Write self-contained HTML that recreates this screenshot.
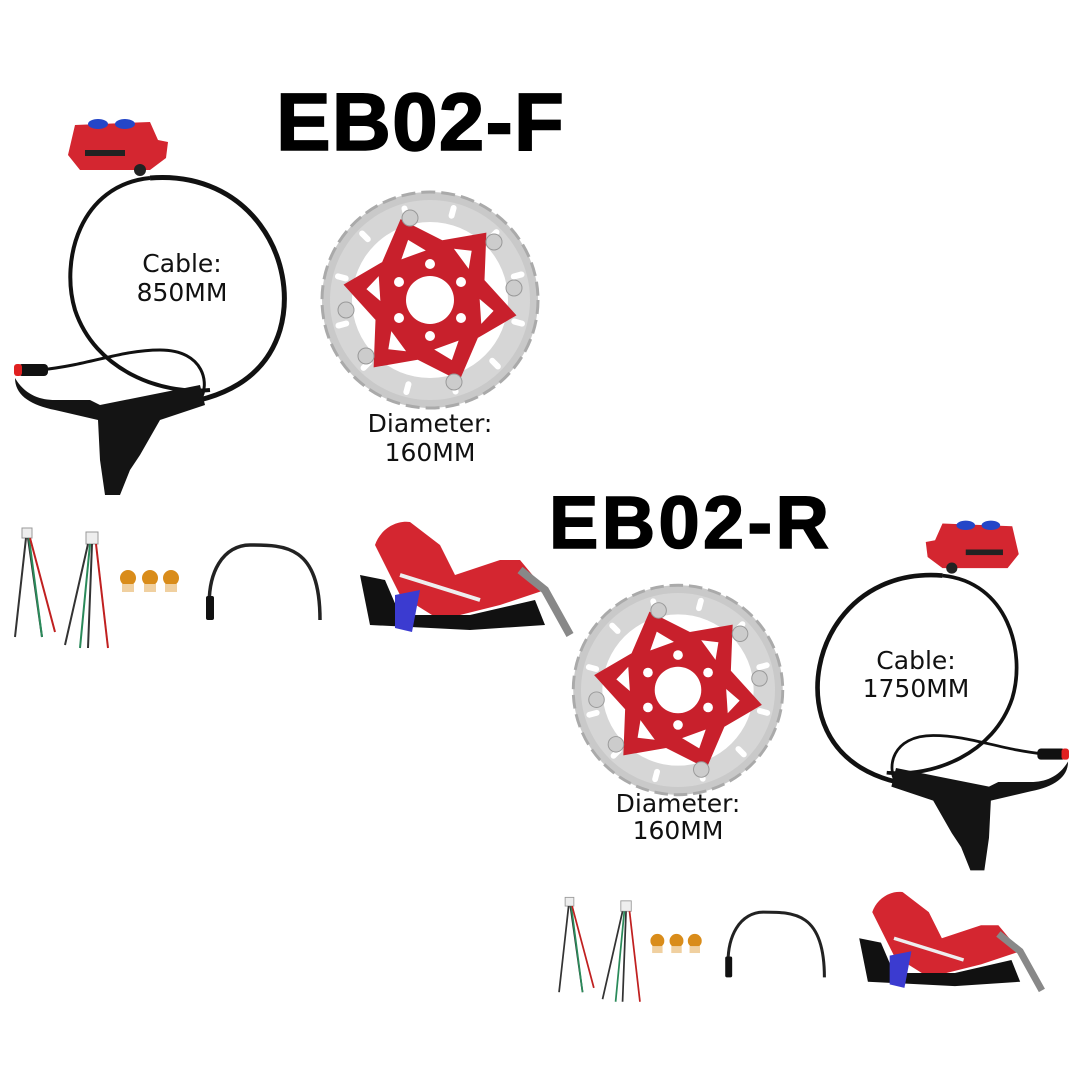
<!DOCTYPE html>
<html><head><meta charset="utf-8"><style>
html,body{margin:0;padding:0;background:#fff;}
svg{display:block}
.t{font-family:"Liberation Sans","DejaVu Sans",sans-serif;font-weight:bold;fill:#000;stroke:#000;stroke-width:1.5}
.l{font-family:"DejaVu Sans","Liberation Sans",sans-serif;fill:#111;font-size:25px}
</style></head><body>
<svg width="1080" height="1080" viewBox="0 0 1080 1080" xmlns="http://www.w3.org/2000/svg">
<defs>
<g id="rotor">
  <circle r="108" fill="#c9c9c9" stroke="#aaa" stroke-width="3" stroke-dasharray="14 6"/>
  <circle r="100" fill="#d6d6d6"/>
  <circle r="78" fill="#fff"/>
  <g fill="#fff">
    <rect x="84" y="-4" width="14" height="6" rx="3" transform="rotate(15)"/>
    <rect x="84" y="-4" width="14" height="6" rx="3" transform="rotate(45)"/>
    <rect x="84" y="-4" width="14" height="6" rx="3" transform="rotate(75)"/>
    <rect x="84" y="-4" width="14" height="6" rx="3" transform="rotate(105)"/>
    <rect x="84" y="-4" width="14" height="6" rx="3" transform="rotate(135)"/>
    <rect x="84" y="-4" width="14" height="6" rx="3" transform="rotate(165)"/>
    <rect x="84" y="-4" width="14" height="6" rx="3" transform="rotate(195)"/>
    <rect x="84" y="-4" width="14" height="6" rx="3" transform="rotate(225)"/>
    <rect x="84" y="-4" width="14" height="6" rx="3" transform="rotate(255)"/>
    <rect x="84" y="-4" width="14" height="6" rx="3" transform="rotate(285)"/>
    <rect x="84" y="-4" width="14" height="6" rx="3" transform="rotate(315)"/>
    <rect x="84" y="-4" width="14" height="6" rx="3" transform="rotate(345)"/>
  </g>
  <polygon fill="#c8202c" points="0,-86 32,-52 76,-44 58,0 76,44 32,52 0,86 -32,52 -76,44 -58,0 -76,-44 -32,-52" transform="rotate(-20)"/>
  <g fill="#fff" transform="rotate(-20)">
    <polygon points="0,-64 13,-48 -13,-48"/><polygon points="0,64 13,48 -13,48"/>
    <polygon points="56,-32 47,-16 40,-40"/><polygon points="-56,-32 -47,-16 -40,-40"/>
    <polygon points="56,32 47,16 40,40"/><polygon points="-56,32 -47,16 -40,40"/>
  </g>
  <circle r="24" fill="#fff"/>
  <g fill="#fff">
    <circle cx="0" cy="-36" r="5"/><circle cx="31" cy="-18" r="5"/><circle cx="31" cy="18" r="5"/>
    <circle cx="0" cy="36" r="5"/><circle cx="-31" cy="18" r="5"/><circle cx="-31" cy="-18" r="5"/>
  </g>
  <g fill="#ccc" stroke="#999">
    <circle cx="-20" cy="-82" r="8"/><circle cx="64" cy="-58" r="8"/><circle cx="84" cy="-12" r="8"/>
    <circle cx="24" cy="82" r="8"/><circle cx="-64" cy="56" r="8"/><circle cx="-84" cy="10" r="8"/>
  </g>
</g>
<g id="assy">
  <path d="M150,178 C250,170 300,260 280,330 C265,380 220,400 170,405" fill="none" stroke="#111" stroke-width="5"/>
  <path d="M150,178 C80,185 60,260 75,310 C95,370 160,395 210,390" fill="none" stroke="#111" stroke-width="4"/>
  <path d="M40,370 C90,365 120,350 160,350 C205,350 210,385 200,400" fill="none" stroke="#111" stroke-width="3"/>
  <path d="M75,125 L150,122 L158,140 L168,142 L166,158 L150,170 L80,170 L68,155 Z" fill="#d42630"/>
  <rect x="85" y="150" width="40" height="6" fill="#222"/>
  <ellipse cx="98" cy="124" rx="10" ry="5" fill="#2446c8"/><ellipse cx="125" cy="124" rx="10" ry="5" fill="#2446c8"/>
  <circle cx="140" cy="170" r="6" fill="#222"/>
  <rect x="18" y="364" width="30" height="12" rx="4" fill="#111"/><rect x="14" y="364" width="8" height="12" rx="3" fill="#e02020"/>
  <path d="M15,378 C25,395 40,400 55,400 L90,400 L100,405 L150,395 L200,385 L205,405 L160,420 L140,455 L130,470 L120,495 L105,495 L100,460 L98,420 L55,410 C30,405 15,395 15,378 Z" fill="#141414"/>
</g>
<g id="acc">
  <rect x="22" y="528" width="10" height="10" fill="#eee" stroke="#999"/>
  <path d="M26,538 L15,637 M28,538 L42,637" stroke="#333" stroke-width="2" fill="none"/>
  <path d="M29,538 L42,637" stroke="#2a8a5a" stroke-width="2" fill="none"/>
  <path d="M30,538 L55,632" stroke="#c02020" stroke-width="2" fill="none"/>
  <rect x="86" y="532" width="12" height="12" fill="#eee" stroke="#999"/>
  <path d="M88,544 L65,645 M92,544 L88,648" stroke="#333" stroke-width="2" fill="none"/>
  <path d="M90,544 L80,648" stroke="#2a8a5a" stroke-width="2" fill="none"/>
  <path d="M96,544 L108,648" stroke="#c02020" stroke-width="2" fill="none"/>
  <g fill="#d98c1a"><circle cx="128" cy="578" r="8"/><circle cx="150" cy="578" r="8"/><circle cx="171" cy="578" r="8"/></g>
  <g fill="#f0d0a0"><rect x="122" y="584" width="12" height="8"/><rect x="144" y="584" width="12" height="8"/><rect x="165" y="584" width="12" height="8"/></g>
  <path d="M210,618 C205,570 225,545 250,545 C285,545 320,545 320,620" fill="none" stroke="#222" stroke-width="3.5"/>
  <rect x="206" y="596" width="8" height="24" rx="2" fill="#111"/>
  <path d="M375,545 C380,530 395,520 410,522 L440,545 L455,575 L500,560 L520,560 L545,590 L500,605 L440,620 L400,595 Z" fill="#d42630"/>
  <path d="M360,575 L370,625 L470,630 L545,625 L535,600 L470,615 L400,615 L385,580 Z" fill="#111"/>
  <path d="M395,595 L420,590 L412,632 L395,628 Z" fill="#3b3bd0"/>
  <path d="M520,570 L545,590 L570,635" stroke="#888" stroke-width="8" fill="none"/>
  <path d="M400,575 L480,600" stroke="#eee" stroke-width="4"/>
</g>
</defs>

<text class="t" x="276" y="150" font-size="82" textLength="288" lengthAdjust="spacing">EB02-F</text>
<text class="t" x="549" y="548" font-size="74" textLength="280" lengthAdjust="spacing">EB02-R</text>

<use href="#assy"/>
<g transform="translate(1082,410) scale(-0.93,0.93)"><use href="#assy"/></g>

<g transform="translate(430,300)"><use href="#rotor"/></g>
<g transform="translate(678,690) scale(0.97)"><use href="#rotor"/></g>

<use href="#acc"/>
<g transform="translate(546,438) scale(0.87)"><use href="#acc"/></g>

<text class="l" x="182" y="272" text-anchor="middle">Cable:</text>
<text class="l" x="182" y="301" text-anchor="middle">850MM</text>
<text class="l" x="430" y="432" text-anchor="middle">Diameter:</text>
<text class="l" x="430" y="461" text-anchor="middle">160MM</text>
<text class="l" x="916" y="669" text-anchor="middle">Cable:</text>
<text class="l" x="916" y="697" text-anchor="middle">1750MM</text>
<text class="l" x="678" y="812" text-anchor="middle">Diameter:</text>
<text class="l" x="678" y="839" text-anchor="middle">160MM</text>
</svg>
</body></html>
